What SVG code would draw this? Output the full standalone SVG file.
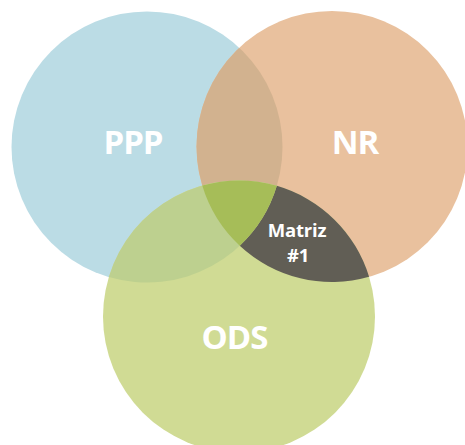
<svg xmlns="http://www.w3.org/2000/svg" width="465" height="445" viewBox="0 0 465 445">
<style>
.l{font-family:"Open Sans","Liberation Sans",sans-serif;font-weight:700;fill:#fff;text-anchor:middle}
.b{font-size:33px;letter-spacing:-1px}
.s{font-size:18.5px;letter-spacing:-0.2px}
</style>
<defs>
<clipPath id="inP"><circle cx="147" cy="147" r="135.5"/></clipPath>
</defs>
<rect width="465" height="445" fill="#fff"/>
<g id="node-ppp"><circle cx="147" cy="147" r="135.5" fill="#bbdce5"/></g>
<g id="node-nr"><circle cx="332" cy="146.5" r="135.5" fill="#e9c19e"/></g>
<g id="overlap-ppp-nr"><circle cx="332" cy="146.5" r="135.5" fill="#d2b28f" clip-path="url(#inP)"/></g>
<g id="node-ods"><circle cx="239" cy="316.5" r="136" fill="#d0db94"/></g>
<g id="overlap-ppp-ods"><path d="M108.85 277.01A136 136 0 0 1 276.81 185.85A135.5 135.5 0 0 1 108.85 277.01Z" fill="#bdd08f"/></g>
<g id="overlap-nr-ods"><path d="M276.81 185.85A136 136 0 0 1 369.08 276.82A135.5 135.5 0 0 1 239.77 245.76A135.5 135.5 0 0 0 276.81 185.85Z" fill="#615e55"/></g>
<g id="overlap-all"><path d="M202.26 185.56A136 136 0 0 1 276.81 185.85A135.5 135.5 0 0 1 239.77 245.76A135.5 135.5 0 0 1 202.26 185.56Z" fill="#a6bd58"/></g>
<g id="labels">
<text class="l b" x="133" y="154">PPP</text>
<text class="l b" x="355" y="154">NR</text>
<text class="l b" x="234.500" y="349">ODS</text>
<text class="l s" x="297" y="237">Matriz</text>
<text class="l s" x="298" y="262">#1</text>
</g>
</svg>
